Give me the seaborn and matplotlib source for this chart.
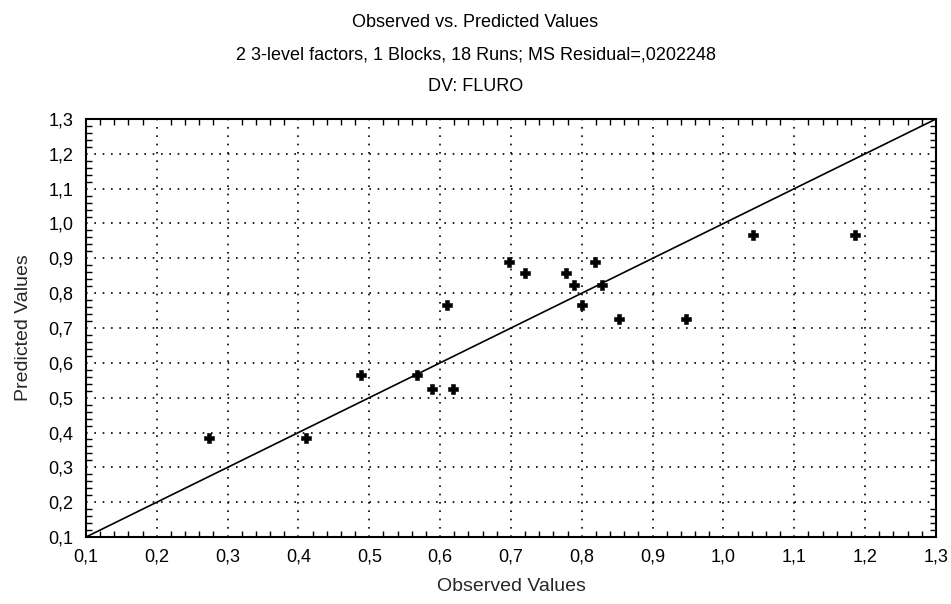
import numpy as np
import pandas as pd
import matplotlib
matplotlib.use("Agg")
import matplotlib.pyplot as plt
from matplotlib.ticker import MultipleLocator
import seaborn as sns

# Observed and predicted FLURO responses (18 runs)
observed = [0.274, 0.411, 0.488, 0.567, 0.588, 0.618, 0.609, 0.697, 0.720,
            0.777, 0.819, 0.789, 0.829, 0.800, 0.852, 0.947, 1.042, 1.186]
predicted = [0.383, 0.383, 0.564, 0.564, 0.526, 0.526, 0.766, 0.889, 0.857,
             0.857, 0.889, 0.823, 0.823, 0.765, 0.727, 0.727, 0.966, 0.966]

tick_values = [0.1, 0.2, 0.3, 0.4, 0.5, 0.6, 0.7, 0.8, 0.9, 1.0, 1.1, 1.2, 1.3]
tick_labels = ["0,1", "0,2", "0,3", "0,4", "0,5", "0,6", "0,7",
               "0,8", "0,9", "1,0", "1,1", "1,2", "1,3"]
axis_range = [0.1, 1.3]

title_lines = ["Observed vs. Predicted Values",
               "2 3-level factors, 1 Blocks, 18 Runs; MS Residual=,0202248",
               "DV: FLURO"]

sns.set_theme(style="white")
plt.rcParams["font.family"] = ["Liberation Sans", "DejaVu Sans"]

df = pd.DataFrame({"Observed": observed, "Predicted": predicted})
ref = pd.DataFrame({"x": axis_range, "y": axis_range})

fig = plt.figure(figsize=(9.51, 6.04), dpi=100)
ax = fig.add_axes([0.0904, 0.1109, 0.8938, 0.6921])

# identity line
sns.lineplot(data=ref, x="x", y="y", ax=ax, color="black", linewidth=1.2,
             zorder=3)
sns.scatterplot(data=df, x="Observed", y="Predicted", ax=ax, marker="P",
                s=60, color="black", edgecolor="black", linewidth=0.4,
                zorder=4)

ax.set_xlim(axis_range)
ax.set_ylim(axis_range)
ax.set_xticks(tick_values)
ax.set_xticklabels(tick_labels)
ax.set_yticks(tick_values)
ax.set_yticklabels(tick_labels)
ax.xaxis.set_minor_locator(MultipleLocator(0.02))
ax.yaxis.set_minor_locator(MultipleLocator(0.02))

ax.grid(True, which="major", color="black", linestyle=(0, (1, 4)),
        linewidth=1.2)
ax.grid(False, which="minor")
ax.tick_params(which="both", direction="in", top=True, right=True,
               bottom=True, left=True, colors="black", labelsize=13)
ax.tick_params(axis="x", which="major", length=0, pad=8)
ax.tick_params(axis="y", which="major", length=0, pad=9)
ax.tick_params(which="minor", length=4, width=1)

for s in ax.spines.values():
    s.set_color("black")
    s.set_linewidth(1.5)

ax.set_xlabel("Observed Values", fontsize=14, labelpad=9)
ax.set_ylabel("Predicted Values", fontsize=14, labelpad=12)

baselines = [27, 59, 91]
for line, base in zip(title_lines, baselines):
    fig.text(0.5, 1 - base / 604, line, ha="center", va="baseline",
             fontsize=13, color="black")

fig.savefig("out.png", dpi=100, facecolor="white")
